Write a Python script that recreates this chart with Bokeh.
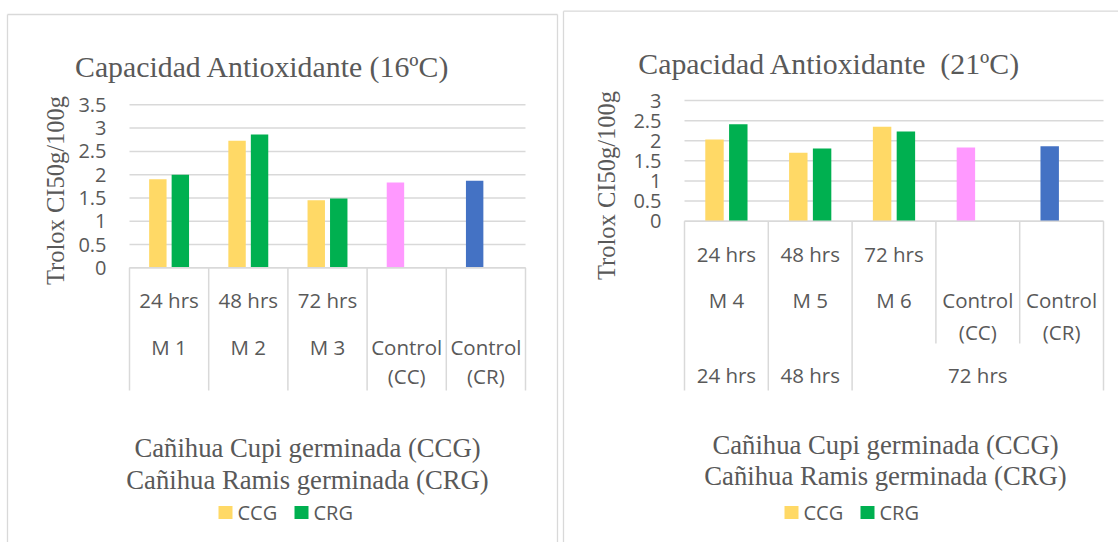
import numpy as np
from bokeh.plotting import figure
from bokeh.layouts import row
from bokeh.models import Range1d
from bokeh.core.properties import value
from bokeh.embed import file_html
from bokeh.resources import INLINE

# ---- data ----
hours = ["24 hrs", "48 hrs", "72 hrs"]
samples_16 = ["M 1", "M 2", "M 3"]
samples_21 = ["M 4", "M 5", "M 6"]
controls = ["Control\n(CC)", "Control\n(CR)"]
series_names = ["CCG", "CRG"]

ccg_16 = [1.90, 2.73, 1.45]
crg_16 = [2.00, 2.86, 1.49]
control_16 = [1.83, 1.87]

ccg_21 = [2.03, 1.70, 2.35]
crg_21 = [2.41, 1.81, 2.23]
control_21 = [1.83, 1.86]

y_ticks_16 = [0, 0.5, 1, 1.5, 2, 2.5, 3, 3.5]
y_ticks_21 = [0, 0.5, 1, 1.5, 2, 2.5, 3]

# non-breaking space keeps the double gap in the second title
titles = ["Capacidad Antioxidante (16ºC)", "Capacidad Antioxidante \u00a0(21ºC)"]
y_title = "Trolox CI50g/100g"
x_title = ["Cañihua Cupi germinada (CCG)", "Cañihua Ramis germinada (CRG)"]

# ---- styling ----
C_CCG = "#FFD966"
C_CRG = "#00B050"
C_CC = "#FF99FF"
C_CR = "#4472C4"
GRID = "#D9D9D9"
TXT = "#595959"
SANS = value("Open Sans")
SERIF = value("Liberation Serif")
BAR_W = 0.22
DODGE = 0.142


class Chart:
    """Pixel layout helper: category i is centred at x=i, values map linearly."""

    def __init__(self, width, height, cat0_px, cat_w, zero_py, unit_py):
        self.w, self.h = width, height
        self.cat0, self.cw = cat0_px, cat_w
        self.zero, self.k = zero_py, unit_py
        self.p = figure(
            width=width, height=height,
            x_range=Range1d(self.X(0), self.X(width)),
            y_range=Range1d(self.Y(height), self.Y(0)),
            output_backend="svg", toolbar_location=None,
            x_axis_type=None, y_axis_type=None,
            min_border=0, outline_line_color=None,
            background_fill_color="white", border_fill_color="white",
        )

    def X(self, px):
        return (px - self.cat0) / self.cw

    def Y(self, py):
        return (self.zero - py) / self.k

    def text(self, px, py, txt, font=SANS, size="20.5px", align="center",
             baseline="middle", angle=0.0, data_x=None, data_y=None):
        xs = data_x if data_x is not None else [self.X(v) for v in np.atleast_1d(px)]
        ys = data_y if data_y is not None else [self.Y(v) for v in np.atleast_1d(py)]
        self.p.text(x=xs, y=ys, text=list(np.atleast_1d(txt)), text_font=font,
                    text_font_size=size, text_color=TXT, text_align=align,
                    text_baseline=baseline, angle=angle)

    def seg(self, x0, y0, x1, y1, width=1.3):
        self.p.segment(x0=[self.X(v) for v in x0], y0=[self.Y(v) for v in y0],
                       x1=[self.X(v) for v in x1], y1=[self.Y(v) for v in y1],
                       line_color=GRID, line_width=width)


def draw(ch, ccg, crg, ctrl, ticks, samples, title, title_pos, ylab_pos,
         tick_right_px, rows_py, ctrl_py, sep_bottom, xt_pos, leg):
    p = ch.p
    idx = np.arange(len(samples))
    ncat = len(samples) + len(ctrl)

    # value gridlines
    p.segment(x0=-0.5, x1=ncat - 0.5, y0=ticks, y1=ticks,
              line_color=GRID, line_width=1.5)
    ch.text(tick_right_px, None, [str(t) for t in ticks], align="right",
            data_x=[ch.X(tick_right_px)] * len(ticks), data_y=ticks, size="20px")

    # bars
    p.vbar(x=idx - DODGE, top=ccg, width=BAR_W, fill_color=C_CCG, line_color=None)
    p.vbar(x=idx + DODGE, top=crg, width=BAR_W, fill_color=C_CRG, line_color=None)
    cidx = np.arange(len(samples), ncat)
    p.vbar(x=cidx - DODGE, top=ctrl, width=BAR_W,
           fill_color=[C_CC, C_CR], line_color=None)

    # category axis: baseline and cell separators
    p.segment(x0=-0.5, x1=ncat - 0.5, y0=0, y1=0, line_color=GRID, line_width=1.5)
    edges = np.arange(ncat + 1) - 0.5
    p.segment(x0=edges, x1=edges, y0=0,
              y1=[ch.Y(b) for b in sep_bottom], line_color=GRID, line_width=1.5)

    # category labels
    ch.text(None, None, hours, data_x=list(idx),
            data_y=[ch.Y(rows_py[0])] * len(hours))
    ch.text(None, None, samples, data_x=list(idx),
            data_y=[ch.Y(rows_py[1])] * len(samples))
    first = [c.split("\n")[0] for c in controls]
    second = [c.split("\n")[1] for c in controls]
    ch.text(None, None, first, data_x=list(cidx),
            data_y=[ch.Y(ctrl_py[0])] * len(first))
    ch.text(None, None, second, data_x=list(cidx),
            data_y=[ch.Y(ctrl_py[1])] * len(second))

    # titles
    ch.text(title_pos[0], title_pos[1], title, font=SERIF, size="29.8px",
            baseline="alphabetic")
    ch.text(ylab_pos[0], ylab_pos[1], y_title, font=SERIF, size="24.5px",
            angle=np.pi / 2)
    ch.text([xt_pos[0]] * 2, xt_pos[1], x_title, font=SERIF, size="26.7px",
            baseline="alphabetic")

    # legend
    sq_x, txt_x, ly = leg
    p.rect(x=[ch.X(v) for v in sq_x], y=[ch.Y(ly)] * 2, width=14, height=13,
           width_units="screen", height_units="screen",
           fill_color=[C_CCG, C_CRG], line_color=None)
    ch.text(txt_x, [ly] * 2, series_names, align="left", size="20px")


# left chart (16 ºC)
left = Chart(560, 542, cat0_px=168.6, cat_w=79.2, zero_py=267.3, unit_py=46.57)
left.seg([7, 7, 557], [14, 14, 14], [557, 7, 557], [14, 542, 542])
draw(left, ccg_16, crg_16, control_16, y_ticks_16, samples_16, titles[0],
     title_pos=(262, 66), ylab_pos=(55, 190), tick_right_px=106,
     rows_py=(299, 346), ctrl_py=(346, 375),
     sep_bottom=[390] * 6, xt_pos=(307, [447, 479]),
     leg=([225, 301], [237, 313], 512))

# right chart (21 ºC)
right = Chart(558, 542, cat0_px=165.9, cat_w=83.8, zero_py=220.7, unit_py=40.23)
right.seg([3, 3], [10.7, 10.7], [558, 3], [10.7, 542])
draw(right, ccg_21, crg_21, control_21, y_ticks_21, samples_21, titles[1],
     title_pos=(269, 63), ylab_pos=(46, 185), tick_right_px=101,
     rows_py=(253, 299), ctrl_py=(299, 331),
     sep_bottom=[390, 390, 390, 343, 343, 390], xt_pos=(325, [444, 475]),
     leg=([231, 307], [243, 319], 512))

# third row of the 21 ºC category axis: germination time groups
groups = ["24 hrs", "48 hrs", "72 hrs"]
group_centres = [0, 1, 3]
right.text(None, None, groups, data_x=group_centres,
           data_y=[right.Y(374)] * len(groups))

layout = row(left.p, right.p, spacing=0)
open("out.html", "w").write(file_html(layout, INLINE))
